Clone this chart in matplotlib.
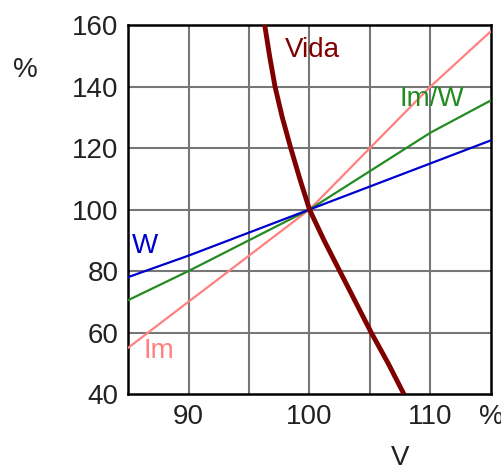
import matplotlib
matplotlib.use("Agg")
import matplotlib.pyplot as plt

plt.rcParams['font.family'] = ['Liberation Sans', 'DejaVu Sans']

# tensao em % do nominal
v = [85, 90, 95, 100, 105, 110, 115]
im = [55, 70, 85, 100, 120, 140, 158]
w = [78, 85, 92.5, 100, 107.5, 115, 122.5]
im_w = [70.5, 80, 90, 100, 112.5, 125, 135.5]

# curva de vida
vida_v = [96.3, 96.7, 97.15, 97.75, 98.45, 99.2, 100, 101.2, 102.5, 103.8, 105.1, 106.5, 107.8]
vida = [160, 150, 140, 130, 120, 110, 100, 90, 80, 70, 60, 50, 40]

xticks = [90, 100, 110, 115]
xlabels = ['90', '100', '110', '%']
yticks = [40, 60, 80, 100, 120, 140, 160]

c_im = '#ff8080'
c_w = '#0000cc'
c_imw = '#228b22'
c_vida = '#800000'

fig = plt.figure(figsize=(5.02, 4.70), dpi=100)
ax = fig.add_axes([0.255, 0.1617, 0.723, 0.785])

# grade
for gx in [90, 95, 100, 105, 110]:
    ax.axvline(gx, color='#777777', lw=1.5, zorder=1)
for gy in [60, 80, 100, 120, 140]:
    ax.axhline(gy, color='#777777', lw=1.5, zorder=1)

ax.plot(v, im, color=c_im, lw=1.6, zorder=3)
ax.plot(v, im_w, color=c_imw, lw=1.6, zorder=3)
ax.plot(v, w, color=c_w, lw=1.6, zorder=3)
ax.plot(vida_v, vida, color=c_vida, lw=3.5, zorder=4)

ax.text(98.0, 152, 'Vida', color=c_vida, fontsize=20, va='center')
ax.text(107.4, 136, 'Im/W', color=c_imw, fontsize=20, va='center')
ax.text(85.3, 88, 'W', color=c_w, fontsize=20, va='center')
ax.text(86.3, 54, 'Im', color=c_im, fontsize=20, va='center')

ax.set_xlim(85, 115)
ax.set_ylim(40, 160)
ax.set_xticks(xticks)
ax.set_xticklabels(xlabels)
ax.set_yticks(yticks)
ax.tick_params(length=0, labelsize=20, pad=7, colors='#222222')
for s in ax.spines.values():
    s.set_linewidth(1.8)
    s.set_color('black')

fig.text(400 / 502, 1 - 458 / 470, 'V', fontsize=20, ha='center', va='center', color='#222222')
fig.text(25 / 502, 1 - 70 / 470, '%', fontsize=20, ha='center', va='center', color='#222222')

fig.savefig('out.png', dpi=100)
